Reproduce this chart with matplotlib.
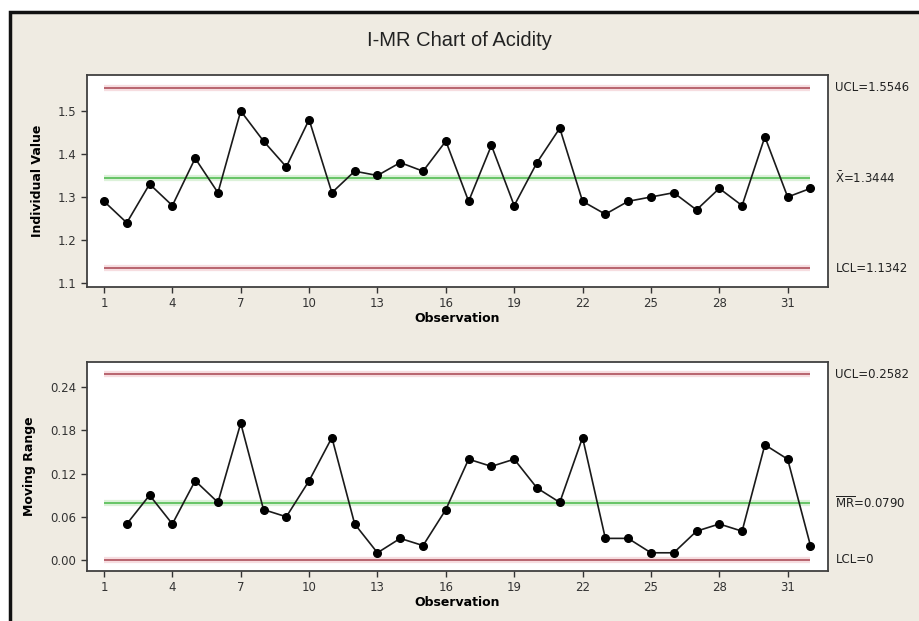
import matplotlib
matplotlib.use("Agg")
import matplotlib.pyplot as plt
import matplotlib.patches as mpatches
from matplotlib.transforms import blended_transform_factory

# individual acidity measurements
obs = list(range(1, 33))
acidity = [1.29, 1.24, 1.33, 1.28, 1.39, 1.31, 1.50, 1.43, 1.37, 1.48,
           1.31, 1.36, 1.35, 1.38, 1.36, 1.43, 1.29, 1.42, 1.28, 1.38,
           1.46, 1.29, 1.26, 1.29, 1.30, 1.31, 1.27, 1.32, 1.28, 1.44,
           1.30, 1.32]
# moving ranges, observation 2..32
mr_obs = list(range(2, 33))
mr = [0.05, 0.09, 0.05, 0.11, 0.08, 0.19, 0.07, 0.06, 0.11, 0.17,
      0.05, 0.01, 0.03, 0.02, 0.07, 0.14, 0.13, 0.14, 0.10, 0.08,
      0.17, 0.03, 0.03, 0.01, 0.01, 0.04, 0.05, 0.04, 0.16, 0.14,
      0.02]

i_ucl, i_cl, i_lcl = 1.5546, 1.3444, 1.1342
mr_ucl, mr_cl, mr_lcl = 0.2582, 0.0790, 0.0

xticks = [1, 4, 7, 10, 13, 16, 19, 22, 25, 28, 31]
i_yticks = [1.1, 1.2, 1.3, 1.4, 1.5]
mr_yticks = [0.00, 0.06, 0.12, 0.18, 0.24]

BG = "#efebe2"
RED = "#b8646e"
RED_HALO = "#f6dde0"
GREEN = "#66c466"
GREEN_HALO = "#dcf1d9"

W, H = 919, 621
fig = plt.figure(figsize=(W / 100, H / 100), dpi=100, facecolor="white")

# window-ish frame behind everything
frame = mpatches.Rectangle((10 / W, -0.1), 1.2, 1 - 12 / H + 0.1,
                           transform=fig.transFigure, facecolor=BG,
                           edgecolor="#111111", linewidth=2.5, zorder=-10)
fig.patches.append(frame)

fig.text(0.5, 1 - 40 / H, "I-MR Chart of Acidity", ha="center", va="center",
         fontsize=14.5, family="Liberation Sans", color="#222222")


def panel(rect, xs, ys, ucl, cl, lcl, ylim, yticks, yfmt, ylabel, ylab_x, labels):
    ax = fig.add_axes(rect)
    ax.set_facecolor("white")
    for y, c, h in ((ucl, RED, RED_HALO), (cl, GREEN, GREEN_HALO), (lcl, RED, RED_HALO)):
        ax.hlines(y, obs[0], obs[-1], color=h, linewidth=4.5, zorder=1)
        ax.hlines(y, obs[0], obs[-1], color=c, linewidth=1.4, zorder=2)
    ax.plot(xs, ys, color="#1a1a1a", linewidth=1.2, marker="o",
            markersize=5.5, markerfacecolor="black", markeredgecolor="black", zorder=3)
    ax.set_xlim(0.254, 32.77)
    ax.set_ylim(*ylim)
    ax.set_xticks(xticks)
    ax.set_yticks(yticks)
    ax.set_yticklabels([yfmt % v for v in yticks])
    ax.tick_params(direction="out", length=4, width=1, colors="#333333",
                   labelsize=8.5, labelcolor="#333333")
    for s in ax.spines.values():
        s.set_color("#404040")
        s.set_linewidth(1.3)
    ax.set_xlabel("Observation", fontsize=9, fontweight="bold", labelpad=1)
    ax.set_ylabel(ylabel, fontsize=9, fontweight="bold")
    ax.yaxis.set_label_coords(ylab_x, 0.5)
    tr = blended_transform_factory(ax.transAxes, ax.transData)
    for y, txt in zip((ucl, cl, lcl), labels):
        ax.text(1.01, y, txt, transform=tr, ha="left", va="center",
                fontsize=8.5, color="#222222")
    return ax


panel([87 / W, 1 - 287 / H, 741 / W, 212 / H], obs, acidity,
      i_ucl, i_cl, i_lcl, (1.0907, 1.5837), i_yticks, "%.1f",
      "Individual Value", -0.058,
      ["UCL=%.4f" % i_ucl, r"$\bar{\mathrm{X}}$=%.4f" % i_cl, "LCL=%.4f" % i_lcl])

panel([87 / W, 1 - 571 / H, 741 / W, 209 / H], mr_obs, mr,
      mr_ucl, mr_cl, mr_lcl, (-0.0153, 0.275), mr_yticks, "%.2f",
      "Moving Range", -0.069,
      ["UCL=%.4f" % mr_ucl, r"$\overline{\mathrm{MR}}$=%.4f" % mr_cl, "LCL=0"])

fig.savefig("out.png", dpi=100, facecolor=fig.get_facecolor())
